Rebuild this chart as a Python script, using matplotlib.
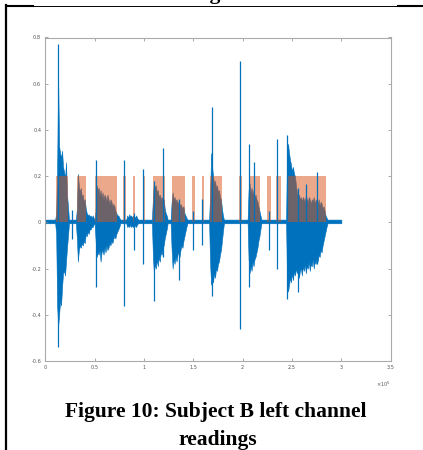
import numpy as np
import matplotlib
matplotlib.use("Agg")
import matplotlib.pyplot as plt
from matplotlib.lines import Line2D

plt.rcParams['axes.unicode_minus'] = False

# ---------------- data (x in units of 1e5 samples) ----------------
signal_end = 3.0
baseline_hi = 0.012
baseline_lo = -0.004
step = 0.01

# dense bursts: start position, upper envelope, lower envelope
burst_start = [0.10, 0.31, 0.50, 0.82, 1.08, 1.27, 1.66, 2.05, 2.44]
burst_hi = [
    [0.012, 0.04, 0.22, 0.62, 0.33, 0.30, 0.28, 0.31, 0.24, 0.22, 0.19, 0.26, 0.12, 0.07, 0.012],
    [0.012, 0.06, 0.21, 0.16, 0.13, 0.15, 0.11, 0.12, 0.09, 0.10, 0.06, 0.04, 0.03, 0.035, 0.025, 0.03, 0.02, 0.03, 0.02, 0.012],
    [0.012, 0.05, 0.16, 0.14, 0.15, 0.12, 0.14, 0.11, 0.13, 0.10, 0.12, 0.11, 0.09, 0.12, 0.10, 0.08, 0.10, 0.09, 0.07, 0.08, 0.07, 0.05, 0.04, 0.03, 0.03, 0.02, 0.012],
    [0.012, 0.03, 0.02, 0.035, 0.025, 0.03, 0.02, 0.03, 0.025, 0.02, 0.03, 0.02, 0.012],
    [0.012, 0.10, 0.17, 0.15, 0.16, 0.13, 0.14, 0.11, 0.12, 0.10, 0.11, 0.09, 0.10, 0.06, 0.04, 0.03, 0.012],
    [0.012, 0.09, 0.13, 0.10, 0.11, 0.09, 0.10, 0.08, 0.09, 0.07, 0.08, 0.07, 0.06, 0.07, 0.04, 0.03, 0.02, 0.012],
    [0.012, 0.12, 0.30, 0.24, 0.20, 0.17, 0.18, 0.15, 0.16, 0.13, 0.14, 0.11, 0.10, 0.06, 0.03, 0.012],
    [0.012, 0.14, 0.17, 0.13, 0.15, 0.12, 0.14, 0.11, 0.12, 0.10, 0.09, 0.07, 0.05, 0.03, 0.012],
    [0.012, 0.30, 0.34, 0.30, 0.27, 0.25, 0.22, 0.24, 0.21, 0.20, 0.16, 0.13, 0.11, 0.12, 0.10,
     0.11, 0.09, 0.11, 0.10, 0.09, 0.12, 0.10, 0.09, 0.11, 0.10, 0.08, 0.10, 0.09, 0.11, 0.08,
     0.10, 0.09, 0.08, 0.10, 0.07, 0.09, 0.08, 0.06, 0.07, 0.05, 0.03, 0.02, 0.012],
]
burst_lo = [
    [-0.004, -0.05, -0.36, -0.45, -0.40, -0.34, -0.36, -0.28, -0.22, -0.21, -0.23, -0.17, -0.11, -0.06, -0.004],
    [-0.004, -0.07, -0.17, -0.12, -0.10, -0.11, -0.09, -0.10, -0.08, -0.09, -0.05, -0.06, -0.04, -0.05, -0.03, -0.03, -0.02, -0.02, -0.01, -0.004],
    [-0.004, -0.08, -0.15, -0.13, -0.14, -0.12, -0.17, -0.13, -0.12, -0.14, -0.11, -0.13, -0.10, -0.12, -0.11, -0.09, -0.10, -0.08, -0.09, -0.07, -0.06, -0.07, -0.05, -0.04, -0.03, -0.02, -0.004],
    [-0.004, -0.02, -0.015, -0.02, -0.01, -0.02, -0.015, -0.02, -0.01, -0.015, -0.02, -0.01, -0.004],
    [-0.004, -0.14, -0.22, -0.18, -0.20, -0.16, -0.19, -0.15, -0.17, -0.13, -0.14, -0.11, -0.10, -0.07, -0.05, -0.03, -0.004],
    [-0.004, -0.12, -0.20, -0.16, -0.18, -0.15, -0.17, -0.14, -0.13, -0.15, -0.12, -0.10, -0.11, -0.08, -0.06, -0.04, -0.02, -0.004],
    [-0.004, -0.18, -0.27, -0.24, -0.26, -0.22, -0.24, -0.20, -0.21, -0.18, -0.17, -0.14, -0.12, -0.08, -0.04, -0.004],
    [-0.004, -0.16, -0.22, -0.19, -0.21, -0.17, -0.19, -0.16, -0.15, -0.13, -0.11, -0.08, -0.06, -0.03, -0.004],
    [-0.004, -0.25, -0.30, -0.27, -0.24, -0.26, -0.22, -0.25, -0.21, -0.23, -0.20, -0.22, -0.19, -0.24, -0.21,
     -0.20, -0.23, -0.19, -0.21, -0.18, -0.22, -0.19, -0.20, -0.17, -0.21, -0.18, -0.19, -0.16, -0.20, -0.17,
     -0.18, -0.15, -0.17, -0.14, -0.15, -0.12, -0.13, -0.10, -0.08, -0.06, -0.04, -0.02, -0.004],
]

# isolated spikes
spike_x = [0.128, 0.27, 0.515, 0.80, 0.895, 0.99, 1.10, 1.19, 1.35, 1.50, 1.59, 1.685, 1.97,
           2.065, 2.115, 2.265, 2.35, 2.45, 2.56, 2.645, 2.755]
spike_hi = [0.77, 0.055, 0.27, 0.27, 0.04, 0.23, 0.18, 0.32, 0.10, 0.05, 0.10, 0.50, 0.70,
            0.34, 0.26, 0.05, 0.36, 0.38, 0.15, 0.165, 0.22]
spike_lo = [-0.54, -0.07, -0.28, -0.36, -0.12, -0.18, -0.34, -0.15, -0.25, -0.12, -0.10, -0.32, -0.46,
            -0.28, -0.15, -0.12, -0.20, -0.33, -0.30, -0.15, -0.18]

# detection regions (orange, value 0.2)
seg_start = [0.11, 0.32, 0.505, 0.79, 0.885, 0.985, 1.095, 1.28, 1.485, 1.585, 1.67, 1.965, 2.06, 2.25, 2.34, 2.445]
seg_end   = [0.235, 0.41, 0.725, 0.82, 0.91, 1.01, 1.21, 1.415, 1.52, 1.605, 1.795, 1.99, 2.175, 2.285, 2.385, 2.84]
seg_level = 0.2

xticks = [0, 0.5, 1, 1.5, 2, 2.5, 3, 3.5]
xtick_labels = ['0', '0.5', '1', '1.5', '2', '2.5', '3', '3.5']
yticks = [-0.6, -0.4, -0.2, 0, 0.2, 0.4, 0.6, 0.8]
ytick_labels = ['-0.6', '-0.4', '-0.2', '0', '0.2', '0.4', '0.6', '0.8']

# ---------------- build waveform envelope ----------------
wx = [0.0]
whi = [baseline_hi]
wlo = [baseline_lo]
for s, h, l in zip(burst_start, burst_hi, burst_lo):
    for i in range(len(h)):
        wx.append(s + i * step)
        whi.append(h[i])
        wlo.append(l[i])
wx.append(signal_end)
whi.append(baseline_hi)
wlo.append(baseline_lo)

blue = '#0072BD'
orange = '#D95319'

fig = plt.figure(figsize=(4.23, 4.5), dpi=100)
ax = fig.add_axes([45.3 / 423, 1 - 361 / 450, (390.7 - 45.3) / 423, (361 - 37.5) / 450])

ax.fill_between(wx, wlo, whi, color=blue, lw=0.4, edgecolor=blue)
ax.vlines(spike_x, spike_lo, spike_hi, color=blue, lw=0.9)
ax.bar(seg_start, [seg_level] * len(seg_start),
       width=[e - s for s, e in zip(seg_start, seg_end)],
       align='edge', color=orange, alpha=0.5, lw=0)

ax.set_xlim(0, 3.5)
ax.set_ylim(-0.6, 0.8)
ax.set_xticks(xticks)
ax.set_xticklabels(xtick_labels)
ax.set_yticks(yticks)
ax.set_yticklabels(ytick_labels)
ax.tick_params(direction='in', length=2.5, width=0.5, colors='#888888',
               labelsize=3.6, labelcolor='#555555', top=True, right=True, pad=3)
for sp in ax.spines.values():
    sp.set_color('#aaaaaa')
    sp.set_linewidth(0.8)

fig.text(383 / 423, 1 - 384 / 450, r'$\times10^5$', fontsize=3.6, color='#555555',
         ha='center', va='center')

serif = ['Liberation Serif', 'DejaVu Serif']
fig.text(216 / 423, 1 - 417 / 450, 'Figure 10: Subject B left channel', ha='center',
         va='baseline', fontsize=15.5, fontweight='bold', family=serif)
fig.text(218 / 423, 1 - 445 / 450, 'readings', ha='center', va='baseline',
         fontsize=15.5, fontweight='bold', family=serif)
fig.text(190 / 423, 1 + 0.5 / 450, 'readings', ha='center', va='baseline',
         fontsize=15.5, fontweight='bold', family=serif)

# document table borders
fig.add_artist(Line2D([7 / 423, 1], [1 - 5.5 / 450] * 2, lw=0.7, color='black'))
fig.add_artist(Line2D([7 / 423, 33 / 423], [1 - 5.5 / 450] * 2, lw=1.5, color='black'))
fig.add_artist(Line2D([398 / 423, 1], [1 - 5.5 / 450] * 2, lw=1.5, color='black'))
fig.add_artist(Line2D([6.3 / 423] * 2, [0, 1 - 4.5 / 450], lw=1.6, color='black'))

fig.savefig('out.png', dpi=100)
